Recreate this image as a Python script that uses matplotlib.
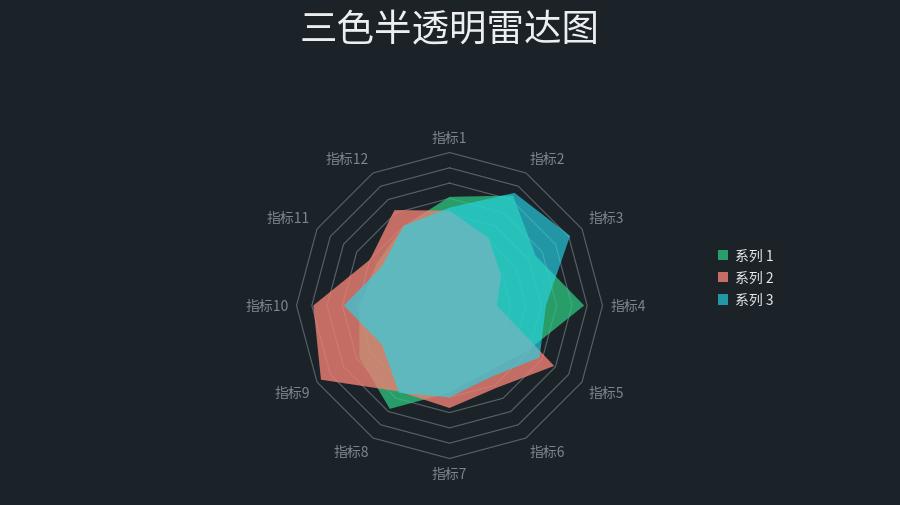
import numpy as np
import matplotlib
matplotlib.use("Agg")
import matplotlib.pyplot as plt
from matplotlib.patches import Patch

plt.rcParams["font.family"] = ["Noto Sans CJK SC", "DejaVu Sans"]

# chart data
indicators = ["指标1", "指标2", "指标3", "指标4", "指标5", "指标6",
              "指标7", "指标8", "指标9", "指标10", "指标11", "指标12"]
series_names = ["系列 1", "系列 2", "系列 3"]
series1 = [71, 83, 65, 88, 59, 50, 57, 78, 68, 59, 55, 60]
series2 = [62, 51, 39, 31, 79, 62, 67, 65, 97, 89, 60, 72]
series3 = [64, 85, 91, 63, 68, 54, 60, 66, 51, 69, 51, 60]
max_value = 100
split_number = 10

bg = "#1b2329"
fill_colors = ["#2fc77f", "#ee8073", "#27d5e7"]
fill_alpha = [0.75, 0.8, 0.65]
legend_colors = ["#2a9e6a", "#c46e64", "#2397a5"]

n = len(indicators)
angles = np.arange(n) * 2 * np.pi / n  # clockwise from top


def to_xy(values):
    r = np.asarray(values, dtype=float) / max_value
    return r * np.sin(angles), r * np.cos(angles)


fig = plt.figure(figsize=(9, 5.06), dpi=100, facecolor=bg)

# radar area: centre at (449.5, 306.5) px, radius 153 px
lim = 1.3
side = 2 * lim * 153
ax = fig.add_axes([(449.5 - side / 2) / 900, (506 - 306.5 - side / 2) / 506,
                   side / 900, side / 506])
ax.set_xlim(-lim, lim)
ax.set_ylim(-lim, lim)
ax.set_facecolor(bg)
ax.axis("off")

# split rings
for k in range(1, split_number + 1):
    level = [max_value * k / split_number] * n
    gx, gy = to_xy(level)
    ax.plot(np.append(gx, gx[0]), np.append(gy, gy[0]),
            color="#58636b", linewidth=0.8, zorder=1)

# series polygons
for values, color, alpha in zip([series1, series2, series3], fill_colors, fill_alpha):
    px, py = to_xy(values)
    ax.fill(px, py, color=color, alpha=alpha, linewidth=0, zorder=2)

# indicator names
name_r = 1 + 8 / 153
for name, a in zip(indicators, angles):
    s, c = np.sin(a), np.cos(a)
    ha = "left" if s > 0.01 else ("right" if s < -0.01 else "center")
    va = "bottom" if c > 0.01 else ("top" if c < -0.01 else "center")
    ax.text(name_r * s, name_r * c, name, ha=ha, va=va,
            color="#7c868c", fontsize=10)

fig.text(0.5, 1 - 31 / 506, "三色半透明雷达图", ha="center", va="center",
         color="#eceeef", fontsize=27, fontweight="light")

handles = [Patch(facecolor=c, edgecolor="none") for c in legend_colors]
fig.legend(handles, series_names, loc="center left",
           bbox_to_anchor=(705 / 900, 1 - 279 / 506), frameon=False,
           labelcolor="#e6e8e9", fontsize=10, handlelength=0.75,
           handleheight=0.75, handletextpad=0.5, labelspacing=0.6)

fig.savefig("out.png", dpi=100, facecolor=bg)
